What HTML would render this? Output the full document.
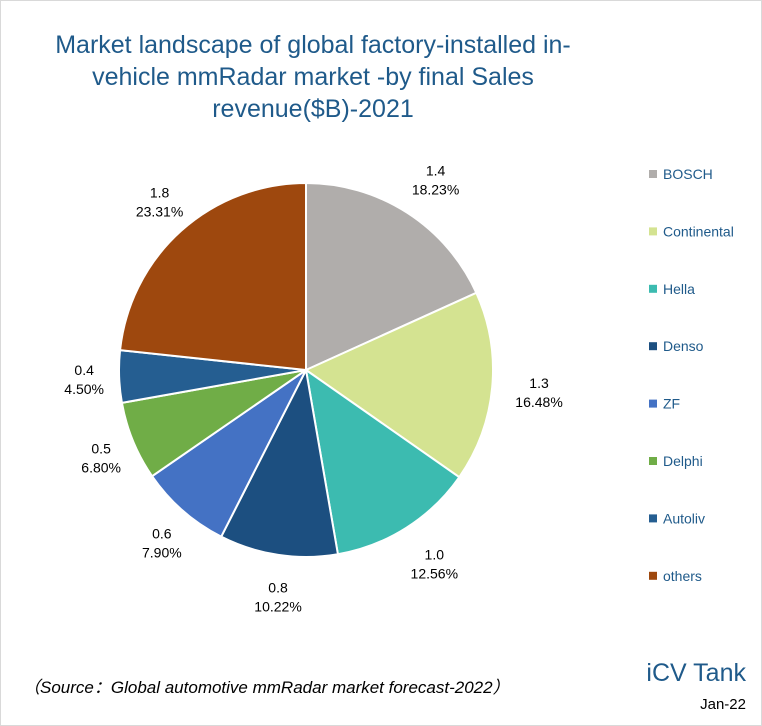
<!DOCTYPE html>
<html><head><meta charset="utf-8"><style>
body{margin:0;background:#fff;font-family:"Liberation Sans","Noto Sans CJK SC",sans-serif;}
#wrap{position:relative;width:760px;height:724px;border:1px solid #d9d9d9;overflow:hidden}
</style></head><body>
<div id="wrap">
<svg id="svg" width="760" height="724">
<g fill="#1f5a8a" font-size="25" text-anchor="middle">
<text x="312" y="52">Market landscape of global factory-installed in-</text>
<text x="312" y="84">vehicle mmRadar market -by final Sales</text>
<text x="312" y="116">revenue($B)-2021</text>
</g>
<g id="pie"></g>
<g id="legend"></g>
<text x="22" y="692" font-size="17" font-style="italic" fill="#000">（Source：Global automotive mmRadar market forecast-2022）</text>
<text x="745" y="680" font-size="25" fill="#1f5a8a" text-anchor="end">iCV Tank</text>
<text x="745" y="708" font-size="15" fill="#000" text-anchor="end">Jan-22</text>
</svg>
</div>
<script>
const categories=["BOSCH","Continental","Hella","Denso","ZF","Delphi","Autoliv","others"];
const values=[1.4,1.3,1.0,0.8,0.6,0.5,0.4,1.8];
const percents=[18.23,16.48,12.56,10.22,7.90,6.80,4.50,23.31];
const colors=["#b0adab","#d4e391","#3cbbb0","#1c4f80","#4472c4","#70ad47","#255e91","#9e480e"];
const NS="http://www.w3.org/2000/svg";
const cx=305,cy=369,r=187,lr=228;
const pie=document.getElementById('pie'),leg=document.getElementById('legend');
const total=percents.reduce((a,b)=>a+b,0);
function pt(a,rad){return [cx+rad*Math.sin(a),cy-rad*Math.cos(a)];}
let a0=0;
categories.forEach((c,i)=>{
  const a1=a0+percents[i]/total*2*Math.PI;
  const p0=pt(a0,r),p1=pt(a1,r);
  const path=document.createElementNS(NS,'path');
  path.setAttribute('d',`M${cx},${cy}L${p0[0]},${p0[1]}A${r},${r} 0 ${a1-a0>Math.PI?1:0} 1 ${p1[0]},${p1[1]}Z`);
  path.setAttribute('fill',colors[i]);path.setAttribute('stroke','#fff');path.setAttribute('stroke-width','2');
  
  
  pie.appendChild(path);
  const m=(a0+a1)/2,lp=pt(m,lr);
  const lx=lp[0]+6;
  const t=document.createElementNS(NS,'text');
  t.setAttribute('x',lx);t.setAttribute('y',lp[1]-3);t.setAttribute('text-anchor','middle');
  t.setAttribute('font-size','14');t.setAttribute('fill','#000');
  
  
  t.innerHTML=`<tspan x="${lx}">${values[i].toFixed(1)}</tspan><tspan x="${lx}" dy="19">${percents[i].toFixed(2)}%</tspan>`;
  pie.appendChild(t);
  a0=a1;
  const y=173+i*57.4;
  const g=document.createElementNS(NS,'g');
  
  
  g.innerHTML=`<rect x="648" y="${y-4}" width="8" height="8" fill="${colors[i]}"/><text x="662" y="${y+5}" font-size="14" fill="#1f5a8a">${c}</text>`;
  leg.appendChild(g);
});
</script>
</body></html>
